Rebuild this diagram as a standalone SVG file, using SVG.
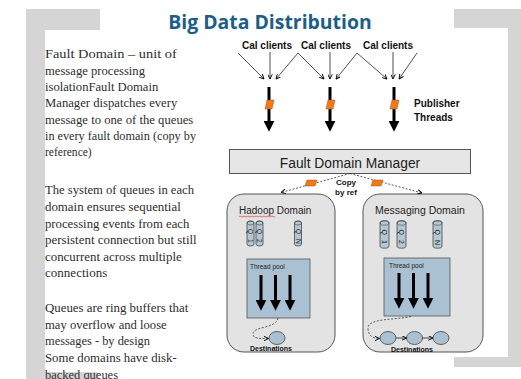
<svg xmlns="http://www.w3.org/2000/svg" width="521" height="379" viewBox="0 0 521 379">
  <style>
    .frame { fill: #d5d5d5; }
    .title { font-family: "Open Sans", Lato, "Liberation Sans", sans-serif; font-weight: bold; font-size: 19.4px; fill: #1b5e8a; }
    .body { font-family: "Liberation Serif", "DejaVu Serif", serif; font-size: 13px; fill: #2e2e2e; }
    .lbl { font-family: "Liberation Sans", Arial, sans-serif; font-weight: bold; fill: #111; }
    .reg { font-family: "Liberation Sans", Arial, sans-serif; fill: #222; }
    .thin { stroke: #222; stroke-width: 0.8; fill: none; }
    .thick { stroke: #000; stroke-width: 3; fill: none; }
    .dash { stroke: #333; stroke-width: 0.8; fill: none; stroke-dasharray: 2 1.6; }
    .tag { fill: #f07a1b; stroke: #a4521c; stroke-width: 0.5; }
    .domain { fill: #e3e3e3; stroke: #555; stroke-width: 1; }
    .pool { fill: #a9c1d2; stroke: #555; stroke-width: 0.8; }
    .queue { fill: #b4c7d4; stroke: #444; stroke-width: 0.8; }
    .dest { fill: #a9c1d3; stroke: #444; stroke-width: 0.8; }
  </style>
  <defs>
    <marker id="vee" viewBox="0 0 6 6" refX="5.6" refY="3" markerWidth="5" markerHeight="5" markerUnits="userSpaceOnUse" orient="auto">
      <path d="M0,0.3 L5.6,3 L0,5.7" fill="none" stroke="#111" stroke-width="1.2"/>
    </marker>
    <marker id="head" viewBox="0 0 10 10" refX="3" refY="5" markerWidth="11" markerHeight="11" markerUnits="userSpaceOnUse" orient="auto">
      <path d="M0,0 L10,5 L0,10 z" fill="#000"/>
    </marker>
  </defs>

  <!-- slide frame corners -->
  <g id="frame">
    <rect class="frame" x="26" y="9" width="74" height="21"/>
    <rect class="frame" x="26" y="9" width="19" height="370"/>
    <rect class="frame" x="26" y="372" width="72" height="7"/>
    <rect class="frame" x="454" y="9" width="67" height="19"/>
    <rect class="frame" x="508" y="9" width="13" height="358"/>
    <rect class="frame" x="454" y="357" width="67" height="10"/>
  </g>

  <text class="title" x="270" y="29" text-anchor="middle">Big Data Distribution</text>

  <!-- explanatory notes -->
  <g id="notes" class="body" lengthAdjust="spacingAndGlyphs">
    <text x="45" y="58" textLength="131.7" lengthAdjust="spacingAndGlyphs">Fault Domain – unit of</text>
    <text x="45" y="74.5" textLength="100" lengthAdjust="spacingAndGlyphs">message processing</text>
    <text x="45" y="91" textLength="113.3" lengthAdjust="spacingAndGlyphs">isolationFault Domain</text>
    <text x="45" y="107" textLength="132.3" lengthAdjust="spacingAndGlyphs">Manager dispatches every</text>
    <text x="45" y="123.5" textLength="148.3" lengthAdjust="spacingAndGlyphs">message to one of the queues</text>
    <text x="45" y="140" textLength="151" lengthAdjust="spacingAndGlyphs">in every fault domain (copy by</text>
    <text x="45" y="156" textLength="46.7" lengthAdjust="spacingAndGlyphs">reference)</text>
    <text x="45" y="194" textLength="149" lengthAdjust="spacingAndGlyphs">The system of queues in each</text>
    <text x="45" y="211" textLength="135.7" lengthAdjust="spacingAndGlyphs">domain ensures sequential</text>
    <text x="45" y="227.5" textLength="144.3" lengthAdjust="spacingAndGlyphs">processing events from each</text>
    <text x="45" y="244" textLength="151.7" lengthAdjust="spacingAndGlyphs">persistent connection but still</text>
    <text x="45" y="260.5" textLength="136.7" lengthAdjust="spacingAndGlyphs">concurrent across multiple</text>
    <text x="45" y="277" textLength="62.3" lengthAdjust="spacingAndGlyphs">connections</text>
    <text x="45" y="312" textLength="143.3" lengthAdjust="spacingAndGlyphs">Queues are ring buffers that</text>
    <text x="45" y="329" textLength="121.7" lengthAdjust="spacingAndGlyphs">may overflow and loose</text>
    <text x="45" y="345" textLength="105" lengthAdjust="spacingAndGlyphs">messages - by design</text>
    <text x="45" y="362" textLength="131.7" lengthAdjust="spacingAndGlyphs">Some domains have disk-</text>
    <text x="45" y="378.5" textLength="73" lengthAdjust="spacingAndGlyphs">backed queues</text>
  </g>

  <!-- client sources -->
  <g id="clients1"><text class="lbl" x="267" y="49" font-size="10" text-anchor="middle">Cal clients</text></g>
  <g id="clients2"><text class="lbl" x="326" y="49" font-size="10" text-anchor="middle">Cal clients</text></g>
  <g id="clients3"><text class="lbl" x="388" y="49" font-size="10" text-anchor="middle">Cal clients</text></g>

  <g id="publisher-label" class="lbl" font-size="10">
    <text x="414" y="107">Publisher</text>
    <text x="414" y="121">Threads</text>
  </g>

  <!-- dispatcher -->
  <g id="fdm">
    <rect x="229.5" y="149.5" width="241" height="24" fill="#e6e6e6" stroke="#555" stroke-width="1"/>
    <text class="reg" x="350" y="167.5" font-size="13.8" text-anchor="middle" fill="#111">Fault Domain Manager</text>
  </g>

  <!-- Hadoop domain -->
  <g id="hadoop">
    <rect class="domain" x="227" y="194" width="108" height="158" rx="17"/>
    <text class="reg" x="239" y="214" font-size="10">Hadoop Domain</text>
    <path d="M239,216.5 q1,-1 2,0 t2,0 t2,0 t2,0 t2,0 t2,0 t2,0 t2,0 t2,0 t2,0 t2,0 t2,0 t2,0 t2,0 t2,0 t2,0 t2,0 t2,0" fill="none" stroke="#e0393b" stroke-width="0.7"/>
    <g id="hadoop-q1">
      <path class="queue" d="M247,223 v21 a3.5,2 0 0 0 7,0 v-21 a3.5,2 0 0 0 -7,0 z"/>
      <ellipse cx="250.5" cy="223" rx="3.5" ry="2" fill="none" stroke="#444" stroke-width="0.6"/>
      <text class="reg" font-size="6.5" transform="translate(248.3,229) rotate(90)">Q</text>
      <text class="reg" font-size="6.5" transform="translate(248.3,239) rotate(90)">1</text>
    </g>
    <g id="hadoop-q2">
      <path class="queue" d="M256,223 v21 a3.5,2 0 0 0 7,0 v-21 a3.5,2 0 0 0 -7,0 z"/>
      <ellipse cx="259.5" cy="223" rx="3.5" ry="2" fill="none" stroke="#444" stroke-width="0.6"/>
      <text class="reg" font-size="6.5" transform="translate(257.3,229) rotate(90)">Q</text>
      <text class="reg" font-size="6.5" transform="translate(257.3,239) rotate(90)">2</text>
    </g>
    <g id="hadoop-qn">
      <path class="queue" d="M294.5,223 v21 a3.5,2 0 0 0 7,0 v-21 a3.5,2 0 0 0 -7,0 z"/>
      <ellipse cx="298" cy="223" rx="3.5" ry="2" fill="none" stroke="#444" stroke-width="0.6"/>
      <text class="reg" font-size="6.5" transform="translate(295.8,229) rotate(90)">Q</text>
      <text class="reg" font-size="6.5" transform="translate(295.8,239) rotate(90)">N</text>
    </g>
    <g id="hadoop-pool">
      <rect class="pool" x="247" y="259" width="63" height="59"/>
      <text class="reg" x="250" y="269" font-size="6.5">Thread pool</text>
      <line class="thick" x1="261" y1="275" x2="261" y2="303" marker-end="url(#head)"/>
      <line class="thick" x1="275.5" y1="275" x2="275.5" y2="303" marker-end="url(#head)"/>
      <line class="thick" x1="290" y1="275" x2="290" y2="303" marker-end="url(#head)"/>
    </g>
    <g id="hadoop-dest">
      <ellipse class="dest" cx="277" cy="338" rx="8" ry="6.5"/>
      <text class="lbl" x="271" y="351" font-size="7" text-anchor="middle">Destinations</text>
    </g>
  </g>

  <!-- Messaging domain -->
  <g id="messaging">
    <rect class="domain" x="363" y="194" width="120" height="158" rx="17"/>
    <text class="reg" x="375" y="214" font-size="10.5">Messaging Domain</text>
    <g id="msg-q1">
      <path class="queue" d="M380,223 v23 a4.5,2.2 0 0 0 9,0 v-23 a4.5,2.2 0 0 0 -9,0 z"/>
      <ellipse cx="384.5" cy="223" rx="4.5" ry="2.2" fill="none" stroke="#444" stroke-width="0.6"/>
      <text class="reg" font-size="7" transform="translate(382.2,229.5) rotate(90)">Q</text>
      <text class="reg" font-size="7" transform="translate(382.2,240) rotate(90)">1</text>
    </g>
    <g id="msg-q2">
      <path class="queue" d="M397,223 v23 a4.5,2.2 0 0 0 9,0 v-23 a4.5,2.2 0 0 0 -9,0 z"/>
      <ellipse cx="401.5" cy="223" rx="4.5" ry="2.2" fill="none" stroke="#444" stroke-width="0.6"/>
      <text class="reg" font-size="7" transform="translate(399.2,229.5) rotate(90)">Q</text>
      <text class="reg" font-size="7" transform="translate(399.2,240) rotate(90)">2</text>
    </g>
    <g id="msg-qn">
      <path class="queue" d="M433,223 v23 a4.5,2.2 0 0 0 9,0 v-23 a4.5,2.2 0 0 0 -9,0 z"/>
      <ellipse cx="437.5" cy="223" rx="4.5" ry="2.2" fill="none" stroke="#444" stroke-width="0.6"/>
      <text class="reg" font-size="7" transform="translate(435.2,229.5) rotate(90)">Q</text>
      <text class="reg" font-size="7" transform="translate(435.2,240) rotate(90)">N</text>
    </g>
    <g id="msg-pool">
      <rect class="pool" x="384" y="258" width="66" height="58"/>
      <text class="reg" x="389" y="268" font-size="6.5">Thread pool</text>
      <line class="thick" x1="399" y1="273" x2="399" y2="301" marker-end="url(#head)"/>
      <line class="thick" x1="413.5" y1="273" x2="413.5" y2="301" marker-end="url(#head)"/>
      <line class="thick" x1="428" y1="273" x2="428" y2="301" marker-end="url(#head)"/>
    </g>
    <g id="msg-dest">
      <ellipse class="dest" cx="388" cy="338" rx="8" ry="6.5"/>
      <ellipse class="dest" cx="414.5" cy="338" rx="8" ry="6.5"/>
      <ellipse class="dest" cx="441" cy="338" rx="8" ry="6.5"/>
      <text class="lbl" x="412" y="352" font-size="7" text-anchor="middle">Destinations</text>
    </g>
  </g>

  <!-- connectors -->
  <g id="connectors">
    <g class="thin" marker-end="url(#vee)">
      <line x1="238" y1="53" x2="264" y2="79"/>
      <line x1="270" y1="52" x2="270" y2="79"/>
      <line x1="298" y1="53" x2="276" y2="79"/>
      <line x1="298" y1="53" x2="324" y2="79"/>
      <line x1="330" y1="52" x2="330" y2="79"/>
      <line x1="357" y1="53" x2="336" y2="79"/>
      <line x1="357" y1="53" x2="387" y2="79"/>
      <line x1="393" y1="52" x2="393" y2="79"/>
      <line x1="417" y1="53" x2="399" y2="79"/>
    </g>
    <g class="thick" marker-end="url(#head)">
      <line x1="269" y1="87" x2="269" y2="124"/>
      <line x1="330" y1="87" x2="330" y2="124"/>
      <line x1="394" y1="87" x2="394" y2="124"/>
    </g>
    <polygon class="tag" points="265,109 267,100 274,100 272,109"/>
    <polygon class="tag" points="326,109 328,100 335,100 333,109"/>
    <polygon class="tag" points="390,109 392,100 399,100 397,109"/>

    <g class="dash" marker-end="url(#vee)">
      <path d="M350,173.5 L281,192.5"/>
      <path d="M350,173.5 L422,193"/>
    </g>
    <polygon class="tag" points="305,186 307,180 317,180 315,186"/>
    <polygon class="tag" points="371,186 373,180 383,180 381,186"/>
    <text class="lbl" x="346" y="185" font-size="8" text-anchor="middle">Copy</text>
    <text class="lbl" x="346" y="194.5" font-size="8" text-anchor="middle">by ref</text>

    <g class="dash" marker-end="url(#vee)">
      <path d="M278,318 C276,329 253,326 253,334 C253,339 260,338.5 268.5,338.5"/>
      <path d="M411,316.5 C396,320 368,318 368,328 C368,336 373,338.5 379.5,338.5"/>
    </g>
    <g class="thin" marker-end="url(#vee)">
      <line x1="396" y1="338" x2="406.5" y2="338"/>
      <line x1="422.5" y1="338" x2="433" y2="338"/>
    </g>
  </g>
</svg>
